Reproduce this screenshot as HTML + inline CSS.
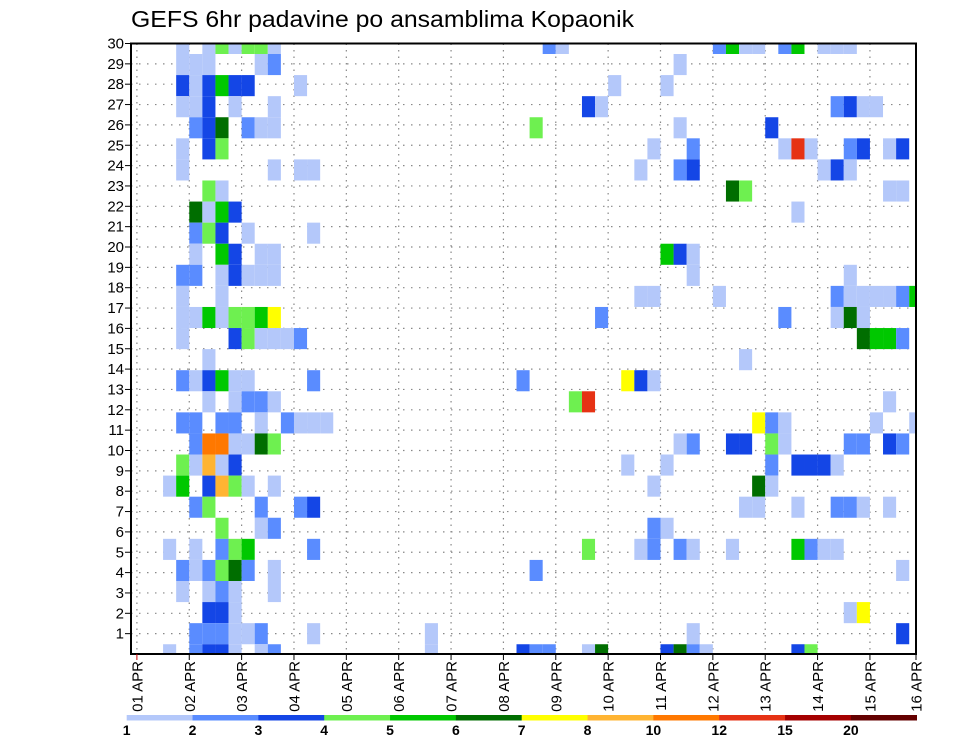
<!DOCTYPE html>
<html>
<head>
<meta charset="utf-8">
<style>
  html,body{margin:0;padding:0;background:#fff;}
  svg{display:block;}
  text{font-family:"Liberation Sans",sans-serif;fill:#000;}
</style>
</head>
<body>
<svg id="chart" width="960" height="742" viewBox="0 0 960 742" xmlns="http://www.w3.org/2000/svg">
  <text x="131" y="27" font-size="23" textLength="503" lengthAdjust="spacingAndGlyphs">GEFS 6hr padavine po ansamblima Kopaonik</text>
  <g id="grid"></g>
  <g id="cells"></g>
  <g id="axes"></g>
  <g id="colorbar"></g>
</svg>
<script>
// ---- data ----
const dayLabels = ["01 APR","02 APR","03 APR","04 APR","05 APR","06 APR","07 APR","08 APR","09 APR","10 APR","11 APR","12 APR","13 APR","14 APR","15 APR","16 APR"];
const memberLabels = [1,2,3,4,5,6,7,8,9,10,11,12,13,14,15,16,17,18,19,20,21,22,23,24,25,26,27,28,29,30];
const levelLabels = ["1","2","3","4","5","6","7","8","10","12","15","20"];
const levelColors = ["#b4c8fa","#5a8cff","#1446e6","#6ef050","#00c800","#006e00","#ffff00","#ffb432","#ff7800","#e63214","#a50000","#640000"];
// rows listed top to bottom; "col:level" (level index 1..12 into levelColors)
const rows = [
 "3:1,5:1,6:4,7:1,8:4,9:4,10:1,31:2,32:1,44:2,45:5,46:1,47:1,49:2,50:5,52:1,53:1,54:1",
 "3:1,4:1,5:1,9:1,10:2,41:1",
 "3:3,4:1,5:3,6:5,7:3,8:3,12:1,36:1,40:1",
 "3:1,4:1,5:3,7:1,10:1,34:3,35:1,53:2,54:3,55:1,56:1",
 "4:2,5:3,6:6,8:2,9:1,10:1,30:4,41:1,48:3",
 "3:1,5:3,6:4,39:1,42:2,49:1,50:10,51:1,54:2,55:3,57:1,58:3",
 "3:1,10:1,12:1,13:1,38:1,41:2,42:3,52:1,53:3,54:1",
 "5:4,6:1,45:6,46:4,57:1,58:1",
 "4:6,5:1,6:5,7:3,50:1",
 "4:2,5:4,6:3,8:1,13:1",
 "4:1,6:5,7:3,9:1,10:1,40:5,41:3,42:1",
 "3:2,4:2,6:1,7:3,8:1,9:1,10:1,42:1,54:1",
 "3:1,6:1,38:1,39:1,44:1,53:2,54:1,55:1,56:1,57:1,58:2,59:5",
 "3:1,4:1,5:5,6:1,7:4,8:4,9:5,10:7,35:2,49:2,53:1,54:6,55:1",
 "3:1,7:3,8:4,9:1,10:1,11:1,12:2,55:6,56:5,57:5,58:2",
 "5:1,46:1",
 "3:2,4:1,5:3,6:5,7:1,8:1,13:2,29:2,37:7,38:3,39:1",
 "5:1,7:1,8:2,9:2,10:1,33:4,34:10,57:1",
 "3:2,4:2,6:2,7:2,9:1,11:2,12:1,13:1,14:1,47:7,48:2,49:1,56:1,59:1",
 "4:2,5:9,6:9,7:1,8:1,9:6,10:4,41:1,42:2,45:3,46:3,48:4,49:1,54:2,55:2,57:3,58:2",
 "3:4,4:1,5:8,6:1,7:3,37:1,40:1,48:2,50:3,51:3,52:3,53:1",
 "2:1,3:5,5:3,6:8,7:4,8:1,10:1,39:1,47:6,48:1",
 "4:2,5:4,9:2,12:2,13:3,46:1,47:1,50:1,53:2,54:2,55:1,57:1",
 "6:4,9:1,10:2,39:2,40:1",
 "2:1,4:1,6:2,7:4,8:5,13:2,34:4,38:1,39:2,41:2,42:1,45:1,50:5,51:2,52:1,53:1",
 "3:2,4:1,5:2,6:4,7:6,8:2,10:1,30:2,58:1",
 "3:1,5:1,6:2,7:1,10:1",
 "5:3,6:3,7:1,54:1,55:7",
 "4:2,5:2,6:2,7:1,8:1,9:2,13:1,22:1,42:1,58:3",
 "2:1,4:2,5:3,6:3,7:1,9:1,10:2,22:1,29:3,30:2,31:2,34:1,35:6,40:3,41:6,42:2,43:1,50:3,51:4"
];

// ---- geometry / scales ----
const NS = "http://www.w3.org/2000/svg";
const P = {left:131, right:916, top:43.5, bottom:654};
const x0 = 136.9, dayW = 52.36, stepW = dayW/4;
function xCell(c){ return x0 + c*stepW; }
function xDay(d){ return Math.min(x0 + d*dayW, P.right); }
function yMember(m){ return P.bottom - m*(P.bottom-P.top)/30; }
const slotH = 21.08, slot1 = 54;
function yTop(s){ return s===0 ? P.top : slot1 + (s-1)*slotH; }
function yBot(s){ return s===rows.length-1 ? P.bottom : slot1 + s*slotH; }

function mk(tag, attrs, parent){
  const e = document.createElementNS(NS, tag);
  for (const k in attrs) e.setAttribute(k, attrs[k]);
  parent.appendChild(e);
  return e;
}
const grid = document.getElementById("grid");
const cellsG = document.getElementById("cells");
const axes = document.getElementById("axes");
const cb = document.getElementById("colorbar");

// grid lines
memberLabels.forEach(m=>{
  const y = yMember(m);
  const l = mk("line",{x1:P.left,x2:P.right,y1:y,y2:y,stroke:"#888","stroke-width":1.2,"stroke-dasharray":"1.5,6.5"},grid);
  
  
});
dayLabels.forEach((d,i)=>{
  const x = xDay(i);
  const l = mk("line",{x1:x,x2:x,y1:P.top,y2:P.bottom,stroke:"#888","stroke-width":1.2,"stroke-dasharray":"1.5,5"},grid);
  
  
});

// cells
rows.forEach((row,s)=>{
  if(!row) return;
  row.split(",").forEach(pair=>{
    const [c,lv] = pair.split(":").map(Number);
    let xa = xCell(c), xb = xCell(c+1);
    xa = Math.max(xa,P.left); xb = Math.min(xb,P.right);
    if (xb<=xa) return;
    const r = mk("rect",{x:xa,y:yTop(s),width:xb-xa,height:yBot(s)-yTop(s),fill:levelColors[lv-1]},cellsG);
    
    
  });
});

// frame
const fr = mk("rect",{x:P.left,y:P.top,width:P.right-P.left,height:P.bottom-P.top,fill:"none",stroke:"#000","stroke-width":2},axes);



// y axis ticks + labels
memberLabels.forEach(m=>{
  const y = yMember(m);
  const t = mk("line",{x1:P.left-6,x2:P.left,y1:y,y2:y,stroke:"#000","stroke-width":1},axes);
  
  
  const tx = mk("text",{x:P.left-7,y:y+5,"font-size":15,"text-anchor":"end"},axes);
  tx.textContent = m;
  
  
});

// x axis ticks + labels
dayLabels.forEach((d,i)=>{
  const x = xDay(i);
  const t = mk("line",{x1:x,x2:x,y1:P.bottom,y2:P.bottom+6,stroke:i===0?"#c00":"#000","stroke-width":1},axes);
  
  
  const tx = mk("text",{x:0,y:0,"font-size":15,"text-anchor":"end",transform:`translate(${x+5.5},${P.bottom+7}) rotate(-90)`},axes);
  tx.textContent = d;
  
  
});

// colorbar
const cbL = 126.7, cbR = 916.7, cbY = 715, cbH = 5.5;
const segW = (cbR-cbL)/levelColors.length;
levelColors.forEach((col,i)=>{
  const r = mk("rect",{x:cbL+i*segW,y:cbY,width:segW+0.3,height:cbH,fill:col},cb);
  
  
});
levelLabels.forEach((lab,i)=>{
  const tx = mk("text",{x:cbL+i*segW,y:735,"font-size":14,"font-weight":"bold","text-anchor":"middle"},cb);
  tx.textContent = lab;
  
  
});
</script>
</body>
</html>
